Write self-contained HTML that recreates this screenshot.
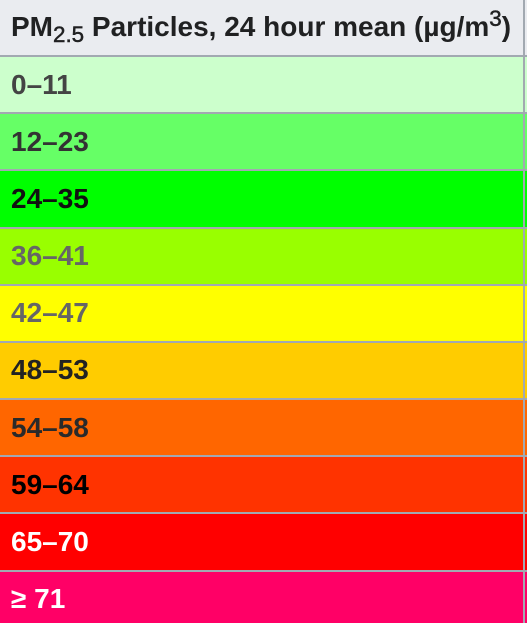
<!DOCTYPE html>
<html lang="en">
<head>
<meta charset="utf-8">
<title>PM2.5 Particles table</title>
<style>
html,body{margin:0;padding:0;background:#fff}
body{width:527px;height:623px;overflow:hidden;position:relative;font-family:"Liberation Sans",sans-serif;font-weight:bold}
.cell{position:absolute;left:0;width:527px;box-sizing:border-box;padding-left:11px;font-size:28px;white-space:nowrap}
.line{position:absolute;left:0;width:527px;height:2px;background:#a2a9b1}
.vline{position:absolute;left:523px;top:0;width:2px;height:623px;background:#a2a9b1}
sub,sup{font-size:22.4px;line-height:0;font-weight:normal;-webkit-text-stroke:0.5px #202122}
sub{vertical-align:-6px}
sup{vertical-align:10px}
</style>
</head>
<body>
<div class="cell" style="top:0;height:55px;line-height:54px;background:#eaecf0;color:#202122">PM<sub>2.5</sub> Particles, 24 hour mean (µg/m<sup>3</sup>)</div>
<div class="line" style="top:55px"></div>
<div class="cell" style="top:57px;height:55px;line-height:56px;background:#ccffcc;color:#444">0–11</div>
<div class="line" style="top:112px"></div>
<div class="cell" style="top:114px;height:55px;line-height:56px;background:#66ff66;color:#333">12–23</div>
<div class="line" style="top:169px"></div>
<div class="cell" style="top:171px;height:56px;line-height:56px;background:#00ff00;color:#111">24–35</div>
<div class="line" style="top:227px"></div>
<div class="cell" style="top:229px;height:55px;line-height:54px;background:#99ff00;color:#666">36–41</div>
<div class="line" style="top:284px"></div>
<div class="cell" style="top:286px;height:55px;line-height:54px;background:#ffff00;color:#666">42–47</div>
<div class="line" style="top:341px"></div>
<div class="cell" style="top:343px;height:55px;line-height:54px;background:#ffcc00;color:#222">48–53</div>
<div class="line" style="top:398px"></div>
<div class="cell" style="top:400px;height:55px;line-height:56px;background:#ff6600;color:#2a2a2a">54–58</div>
<div class="line" style="top:455px"></div>
<div class="cell" style="top:457px;height:55px;line-height:56px;background:#ff3300;color:#000">59–64</div>
<div class="line" style="top:512px"></div>
<div class="cell" style="top:514px;height:56px;line-height:56px;background:#ff0000;color:#fff">65–70</div>
<div class="line" style="top:570px"></div>
<div class="cell" style="top:572px;height:51px;line-height:54px;background:#ff0066;color:#fff">≥ 71</div>
<div class="vline"></div>
</body>
</html>
